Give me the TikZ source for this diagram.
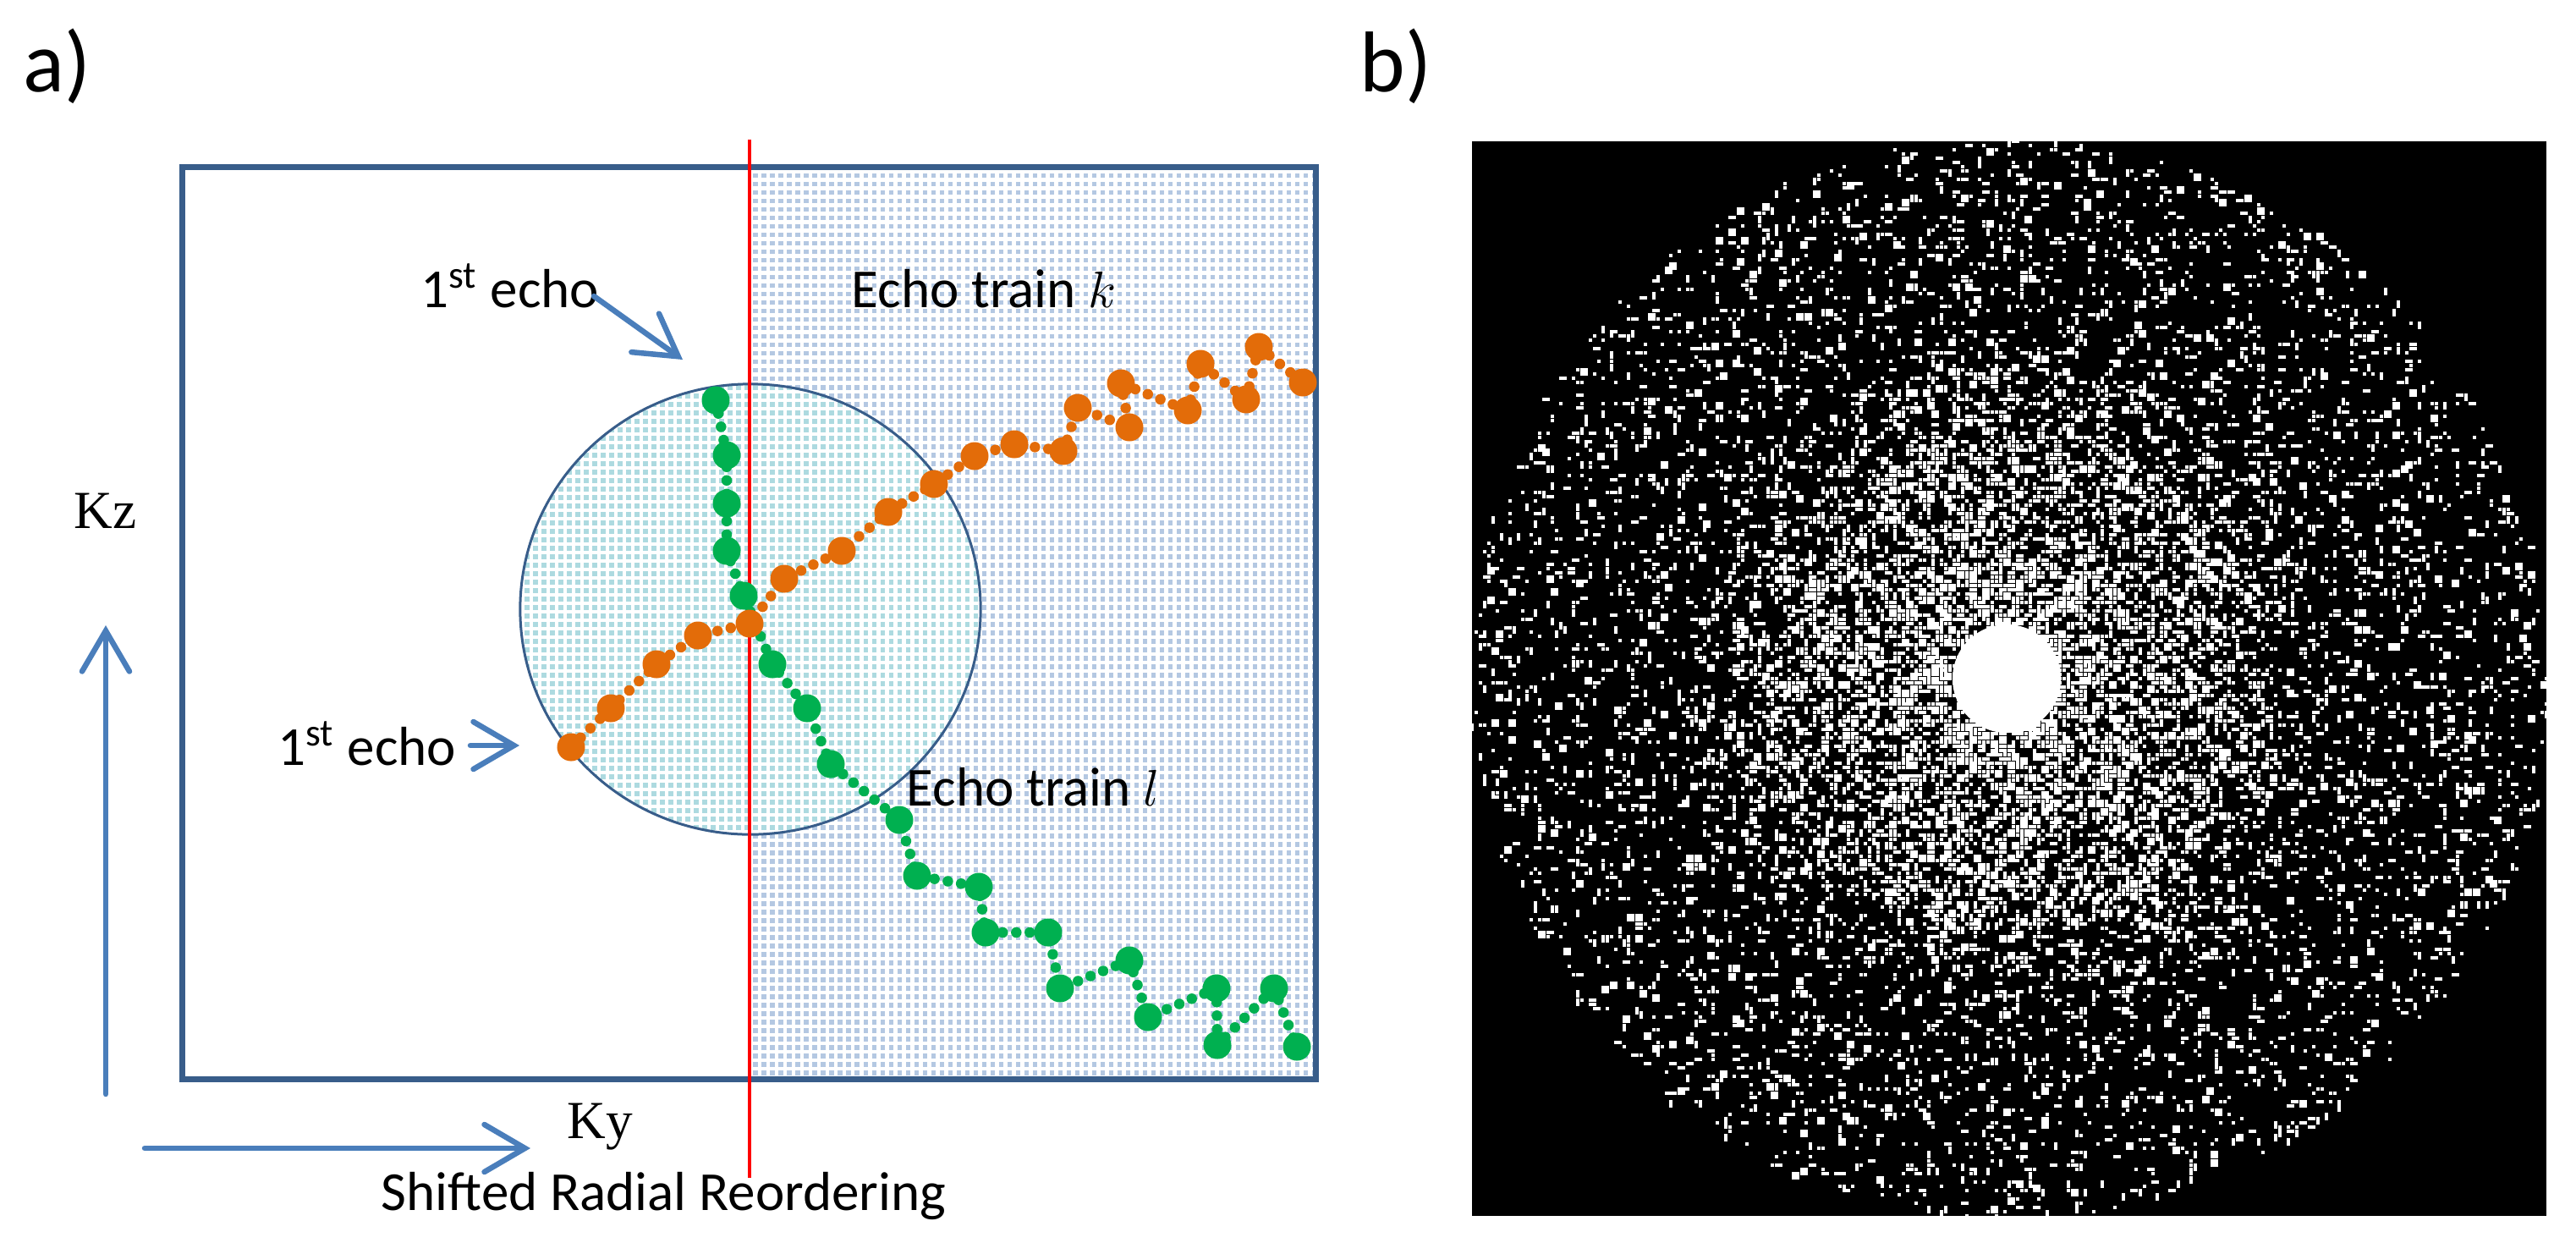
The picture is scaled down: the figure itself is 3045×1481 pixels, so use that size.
\documentclass[tikz,border=0pt]{standalone}
\usepackage{fontspec}
\setmainfont{Carlito}
\newfontfamily\timesfont{Liberation Serif}
\usetikzlibrary{arrows.meta,patterns}

\definecolor{boxblue}{HTML}{385D8A}
\definecolor{arrowblue}{HTML}{4A7EBB}
\definecolor{dotblue}{HTML}{B4C8E2}
\definecolor{dotteal}{HTML}{ADDAE0}
\definecolor{korange}{HTML}{E36C09}
\definecolor{lgreen}{HTML}{00B050}

% small square dots on a 1mm grid
\pgfdeclarepatternformonly{kdots}{\pgfqpoint{-0.5pt}{-0.5pt}}{\pgfqpoint{3.3pt}{3.3pt}}{\pgfqpoint{2.845pt}{2.845pt}}{%
  \pgfpathrectangle{\pgfqpoint{0pt}{0pt}}{\pgfqpoint{1.55pt}{1.55pt}}\pgfusepath{fill}}

% one white mark of the sampling mask (5 unit grid)
\newcommand{\maskdot}[1]{%
	\pgfmathsetmacro{\rr}{#1}%
	\pgfmathsetmacro{\aa}{360*rnd}%
	\pgfmathsetmacro{\xx}{2375+5*round(\rr*cos(\aa)/5)-2.2}%
	\pgfmathsetmacro{\yy}{802+5*round(\rr*sin(\aa)/5)-2.2}%
	\pgfmathsetmacro{\ww}{rnd<0.3 ? 9.4 : 4.4}%
	\pgfmathsetmacro{\hh}{rnd<0.3 ? 9.4 : 4.4}%
	\pgfpathrectangle{\pgfpointxy{\xx}{\yy}}{\pgfpointxy{\ww}{\hh}}%
	\pgfusepath{fill}%
}

\begin{document}
\begin{tikzpicture}[x=0.01cm,y=-0.01cm]
	\useasboundingbox (0,0) rectangle (3045,1481);
	\def \boxleft{215}
	\def \boxright{1555}
	\def \boxtop{197}
	\def \boxbottom{1275}
	\def \midky{886}

	\tikzstyle{lbl}=[inner sep=0pt,anchor=base west,font=\fontsize{18.5}{21}\selectfont]
	\tikzstyle{axlbl}=[inner sep=0pt,anchor=base west,font=\timesfont\fontsize{18}{21}\selectfont]
	\tikzstyle{panel}=[inner sep=0pt,anchor=base west,font=\fontsize{29}{32}\selectfont]
	\tikzstyle{axis}=[draw=arrowblue,line width=0.065cm,line cap=round,
		-{Straight Barb[length=0.48cm,width=0.56cm,line cap=round]}]
	\tikzstyle{ktrain}=[draw=korange,line width=0.125cm,line cap=round,dash pattern=on 0pt off 0.16cm]
	\tikzstyle{ltrain}=[draw=lgreen,line width=0.125cm,line cap=round,dash pattern=on 0pt off 0.16cm]

	% panel labels
	\node[panel] (pa) at (27,108) {a)};
	\node[panel] (pb) at (1607,108) {b)};

	% k-space box, half shaded
	\fill[pattern=kdots,pattern color=dotblue] (\midky,\boxtop) rectangle (\boxright,\boxbottom);
	\draw[boxblue,line width=0.07cm] (\boxleft,\boxtop) rectangle (\boxright,\boxbottom);

	% centre disk
	\fill[white] (887,720) ellipse [x radius=2.72cm,y radius=2.66cm];
	\fill[pattern=kdots,pattern color=dotteal] (887,720) ellipse [x radius=2.72cm,y radius=2.66cm];
	\draw[boxblue,line width=0.03cm] (887,720) ellipse [x radius=2.72cm,y radius=2.66cm];

	% shift line
	\coordinate (shtop) at (\midky,165);
	\coordinate (shbot) at (\midky,1392);
	\draw[red,line width=0.045cm] (shtop) -- (shbot);

	% echo train k
	\foreach \x/\y [count=\i] in {675/883,722/837,776/785,825/751,886/737,927/684,995/651,1050/605,
		1104/572,1152/539,1199/525,1257/533,1274/482,1335/505,1325/453,1404/485,1419/430,1473/472,1488/410,1540/452}
		\coordinate (k\i) at (\x,\y);
	% echo train l
	\foreach \x/\y [count=\i] in {846/473,859/538,859/595,859/651,879/704,913/785,954/837,982/903,
		1063/969,1084/1035,1157/1048,1165/1102,1239/1102,1253/1168,1335/1135,1357/1202,1438/1168,1439/1235,1506/1168,1533/1237}
		\coordinate (l\i) at (\x,\y);

	\draw[ktrain] (k1) \foreach \i in {2,...,20}{ -- (k\i)};
	\draw[ltrain] (l1) \foreach \i in {2,...,20}{ -- (l\i)};
	\foreach \i in {1,...,20}{
		\fill[korange] (k\i) circle[radius=0.165cm];
		\fill[lgreen] (l\i) circle[radius=0.165cm];
	}

	% labels
	\node[lbl] (echo-l) at (497,363) {1\textsuperscript{st} echo};
	\node[lbl] (echo-k) at (328,904) {1\textsuperscript{st} echo};
	\node[lbl] (train-k) at (1006,363) {Echo train $k$};
	\node[lbl] (train-l) at (1071,952) {Echo train $l$};
	\node[axlbl] (kz) at (87,624) {Kz};
	\node[axlbl] (ky) at (670,1345) {Ky};
	\node[lbl] (title) at (450,1430) {Shifted Radial Reordering};

	% arrows
	\coordinate (el-from) at (702,350);
	\coordinate (el-to) at (807,425);
	\coordinate (ek-from) at (556,881);
	\coordinate (ek-to) at (614,881);
	\coordinate (kz-from) at (125,1293);
	\coordinate (kz-to) at (125,739);
	\coordinate (ky-from) at (171,1357);
	\coordinate (ky-to) at (627,1357);
	\draw[axis] (el-from) -- (el-to);
	\draw[axis] (ek-from) -- (ek-to);
	\draw[axis] (kz-from) -- (kz-to);
	\draw[axis] (ky-from) -- (ky-to);

	% sampling mask
	\fill[black] (1740,167) rectangle (3010,1437);
	\begin{scope}
		\clip (1740,167) rectangle (3010,1437);
		\fill[white] (2372,802) circle[radius=0.64cm];
		\begin{pgfscope}
			\pgfsetfillcolor{white}
			\pgfmathsetseed{2718}
			\foreach \i in {1,...,4000}{\maskdot{640*sqrt(rnd)}}
			\foreach \i in {1,...,3500}{\maskdot{640*rnd}}
			\foreach \i in {1,...,2800}{\maskdot{380*rnd}}
			\foreach \i in {1,...,1800}{\maskdot{300*sqrt(rnd)}}
		\end{pgfscope}
	\end{scope}
\end{tikzpicture}
\end{document}
